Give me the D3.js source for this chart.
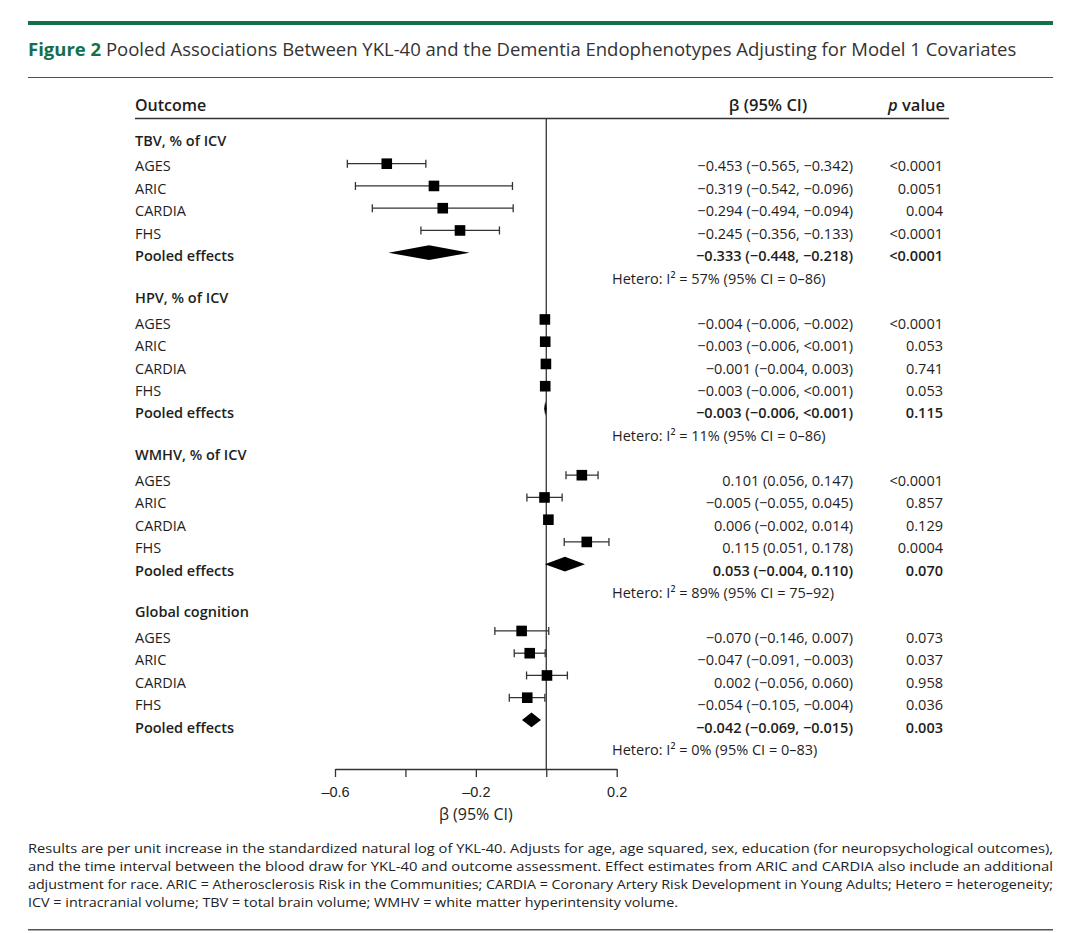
<!DOCTYPE html>
<html>
<head>
<meta charset="utf-8">
<script src="https://cdn.jsdelivr.net/npm/d3@7"></script>
<style>
  body { margin: 0; background: #fff; }
  svg { display: block; font-family: "Open Sans", "Noto Sans", sans-serif; }
</style>
</head>
<body>
<svg id="fig" width="1080" height="933"></svg>
<script>
const groups = ["TBV, % of ICV", "HPV, % of ICV", "WMHV, % of ICV", "Global cognition"];
const studies = ["AGES", "ARIC", "CARDIA", "FHS", "Pooled effects"];

// last entry of every group is the pooled effect
const beta = [
    [-0.453, -0.319, -0.294, -0.245, -0.333],
    [-0.004, -0.003, -0.001, -0.003, -0.003],
    [0.101, -0.005, 0.006, 0.115, 0.053],
    [-0.070, -0.047, 0.002, -0.054, -0.042]
];
const lower = [
    [-0.565, -0.542, -0.494, -0.356, -0.448],
    [-0.006, -0.006, -0.004, -0.006, -0.006],
    [0.056, -0.055, -0.002, 0.051, -0.004],
    [-0.146, -0.091, -0.056, -0.105, -0.069]
];
const upper = [
    [-0.342, -0.096, -0.094, -0.133, -0.218],
    [-0.002, 0.001, 0.003, 0.001, 0.001],
    [0.147, 0.045, 0.014, 0.178, 0.110],
    [0.007, -0.003, 0.060, -0.004, -0.015]
];
const betaLabels = [
    ["−0.453 (−0.565, −0.342)", "−0.319 (−0.542, −0.096)", "−0.294 (−0.494, −0.094)", "−0.245 (−0.356, −0.133)", "−0.333 (−0.448, −0.218)"],
    ["−0.004 (−0.006, −0.002)", "−0.003 (−0.006, <0.001)", "−0.001 (−0.004, 0.003)", "−0.003 (−0.006, <0.001)", "−0.003 (−0.006, <0.001)"],
    ["0.101 (0.056, 0.147)", "−0.005 (−0.055, 0.045)", "0.006 (−0.002, 0.014)", "0.115 (0.051, 0.178)", "0.053 (−0.004, 0.110)"],
    ["−0.070 (−0.146, 0.007)", "−0.047 (−0.091, −0.003)", "0.002 (−0.056, 0.060)", "−0.054 (−0.105, −0.004)", "−0.042 (−0.069, −0.015)"]
];
const pValues = [
    ["<0.0001", "0.0051", "0.004", "<0.0001", "<0.0001"],
    ["<0.0001", "0.053", "0.741", "0.053", "0.115"],
    ["<0.0001", "0.857", "0.129", "0.0004", "0.070"],
    ["0.073", "0.037", "0.958", "0.036", "0.003"]
];
const hetero = [
    "Hetero: I² = 57% (95% CI = 0–86)",
    "Hetero: I² = 11% (95% CI = 0–86)",
    "Hetero: I² = 89% (95% CI = 75–92)",
    "Hetero: I² = 0% (95% CI = 0–83)"
];
const axisTicks = [-0.6, -0.4, -0.2, 0, 0.2];
const axisLabels = ["–0.6", "", "–0.2", "", "0.2"];

const title = "Pooled Associations Between YKL-40 and the Dementia Endophenotypes Adjusting for Model 1 Covariates";
const footnote = [
    "Results are per unit increase in the standardized natural log of YKL-40. Adjusts for age, age squared, sex, education (for neuropsychological outcomes),",
    "and the time interval between the blood draw for YKL-40 and outcome assessment. Effect estimates from ARIC and CARDIA also include an additional",
    "adjustment for race. ARIC = Atherosclerosis Risk in the Communities; CARDIA = Coronary Artery Risk Development in Young Adults; Hetero = heterogeneity;",
    "ICV = intracranial volume; TBV = total brain volume; WMHV = white matter hyperintensity volume."
];

const GREEN = "#13704a";
const INK = "#1e1e1e";
const FS = 14.5;

let svg = d3.select("#fig");

// frame: rules and title
svg.append("rect").attr("x", 28).attr("y", 21).attr("width", 1025).attr("height", 4).attr("fill", GREEN);
svg.append("rect").attr("x", 28).attr("y", 77).attr("width", 1025).attr("height", 1).attr("fill", GREEN);
svg.append("rect").attr("x", 28).attr("y", 929).attr("width", 1025).attr("height", 1.5).attr("fill", "#555");

let t = svg.append("text").attr("x", 28).attr("y", 56).attr("font-size", 18.5).attr("fill", "#333");
t.append("tspan").attr("font-weight", 700).attr("fill", GREEN).text("Figure 2");
t.append("tspan").text(" " + title);

// scales
let x = d3.scaleLinear().domain([-0.6, 0.2]).range([335, 616.7]);
let textY = i => 144 + i * 22.45;
let markY = i => 141.45 + i * 22.25;

// table header
let hy = 111;
svg.append("text").attr("x", 135).attr("y", hy).attr("font-size", 16).attr("font-weight", 600).attr("fill", INK).text("Outcome");
svg.append("text").attr("x", 768).attr("y", hy).attr("font-size", 16.5).attr("font-weight", 600).attr("fill", INK)
    .attr("text-anchor", "middle").text("β (95% CI)");
let pv = svg.append("text").attr("x", 945).attr("y", hy).attr("font-size", 16.5).attr("font-weight", 600).attr("fill", INK)
    .attr("text-anchor", "end");
pv.append("tspan").attr("font-style", "italic").text("p");
pv.append("tspan").text(" value");
svg.append("line").attr("x1", 135).attr("x2", 949).attr("y1", 118.5).attr("y2", 118.5)
    .attr("stroke", "#333").attr("stroke-width", 1.6);

// zero line
svg.append("line").attr("x1", x(0)).attr("x2", x(0)).attr("y1", 119).attr("y2", 769)
    .attr("stroke", "#333").attr("stroke-width", 1.3);

function row_text(xp, i, str, opts) {
    let el = svg.append("text").attr("x", xp).attr("y", textY(i) + 5 - (opts.header ? 3 : 0))
        .attr("font-size", FS).attr("fill", INK).text(str);
    if (opts.bold) el.attr("font-weight", 600);
    if (opts.anchor) el.attr("text-anchor", opts.anchor);
    return el;
}

groups.forEach((g, gi) => {
    let base = gi * 7;
    row_text(135, base, g, {header: true, bold: true});
    studies.forEach((s, si) => {
        let i = base + 1 + si;
        let pooled = si === studies.length - 1;
        row_text(135, i, s, {bold: pooled});
        row_text(853, i, betaLabels[gi][si], {bold: pooled, anchor: "end"});
        row_text(943, i, pValues[gi][si], {bold: pooled, anchor: "end"});

        let cy = markY(i);
        let b = beta[gi][si], lo = lower[gi][si], hi = upper[gi][si];
        if (pooled) {
            let h = 7.4;
            svg.append("path")
                .attr("d", `M${x(lo)},${cy}L${x(b)},${cy - h}L${x(hi)},${cy}L${x(b)},${cy + h}Z`)
                .attr("fill", "#000");
        } else {
            let ci = svg.append("g").attr("stroke", "#333").attr("stroke-width", 1.3);
            ci.append("line").attr("x1", x(lo)).attr("x2", x(hi)).attr("y1", cy).attr("y2", cy);
            ci.append("line").attr("x1", x(lo)).attr("x2", x(lo)).attr("y1", cy - 4).attr("y2", cy + 4);
            ci.append("line").attr("x1", x(hi)).attr("x2", x(hi)).attr("y1", cy - 4).attr("y2", cy + 4);
            svg.append("rect").attr("x", x(b) - 5.3).attr("y", cy - 5.3).attr("width", 10.6).attr("height", 10.6)
                .attr("fill", "#000");
        }
    });
    row_text(612, base + 6, hetero[gi], {});
});

// x axis
let axis = svg.append("g").attr("transform", "translate(0,769)")
    .call(d3.axisBottom(x).tickValues(axisTicks).tickSize(8).tickSizeOuter(0).tickPadding(9.5)
        .tickFormat((d, i) => axisLabels[i]));
axis.select(".domain").attr("stroke", "#333").attr("stroke-width", 1.3);
axis.selectAll(".tick line").attr("stroke", "#333").attr("stroke-width", 1.3);
axis.selectAll(".tick text").attr("font-size", FS).attr("fill", INK).attr("font-family", null);
svg.append("text").attr("x", x(-0.2)).attr("y", 820).attr("text-anchor", "middle")
    .attr("font-size", 16).attr("fill", INK).text("β (95% CI)");

// footnote, justified lines
let widths = [1025, 1025, 1025, 650];
footnote.forEach((line, i) => {
    svg.append("text").attr("x", 28).attr("y", 853 + i * 18)
        .attr("font-family", "'Liberation Sans Narrow', 'Open Sans', sans-serif")
        .attr("font-size", 13.5).attr("fill", "#222")
        .attr("textLength", widths[i]).attr("lengthAdjust", "spacingAndGlyphs")
        .text(line);
});
</script>
</body>
</html>
